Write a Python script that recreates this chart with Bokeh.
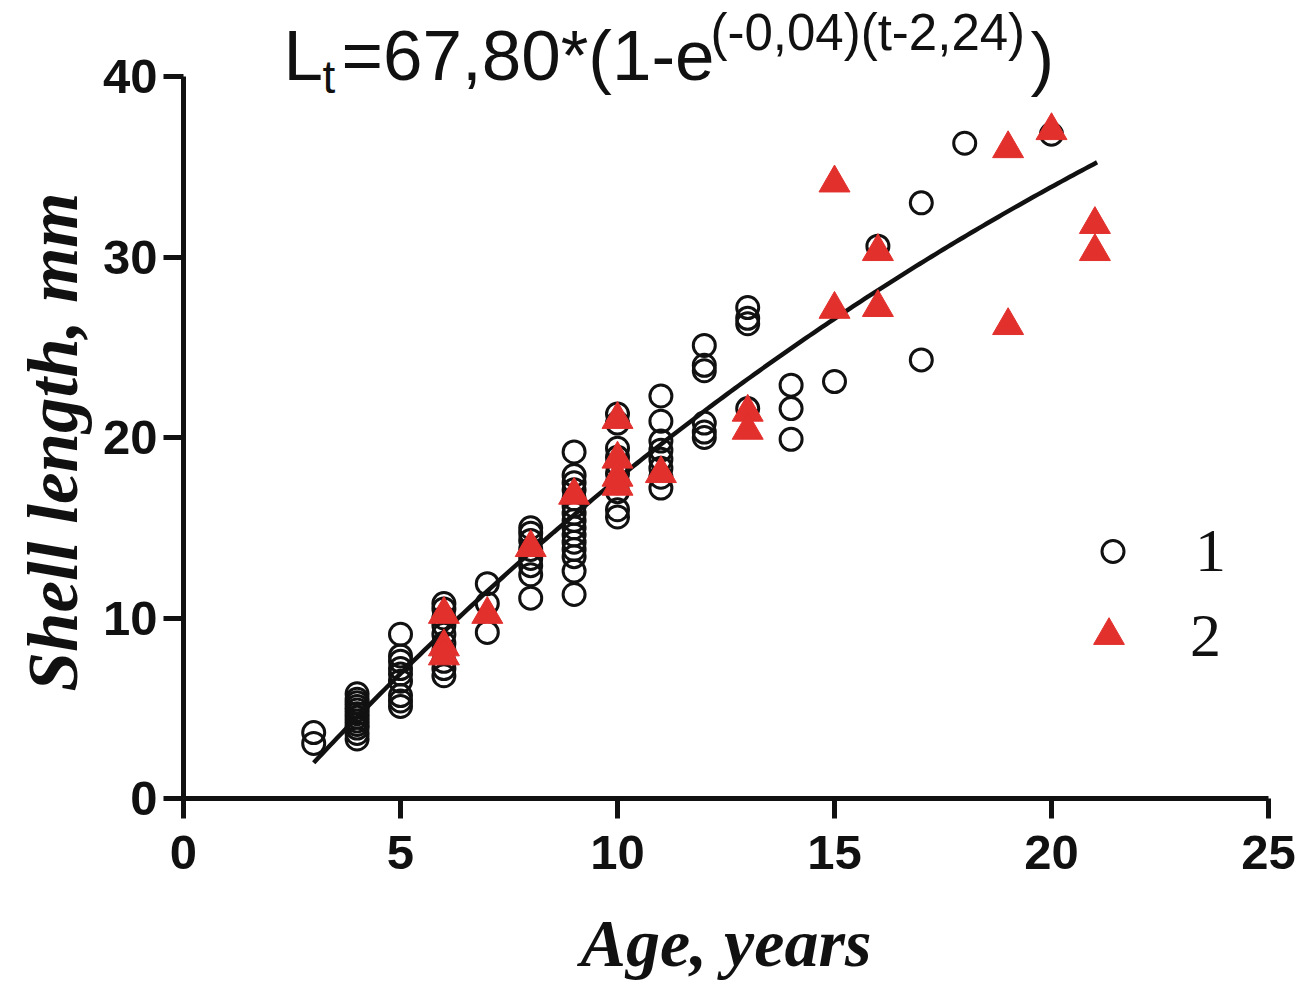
import numpy as np
from bokeh.plotting import figure
from bokeh.models import Range1d, FixedTicker, Legend, LegendItem, Label, Title
from bokeh.embed import file_html
from bokeh.resources import INLINE

# ---- data ----
age_1 = ([3] * 2 + [4] * 12 + [5] * 9 + [6] * 10 + [7] * 3 + [8] * 8 + [9] * 15 +
         [10] * 10 + [11] * 8 + [12] * 6 + [13] * 4 + [14] * 3 + [15] + [16] + [17] * 2 + [18] + [20])
length_1 = [3.65, 3.05,
            3.3, 3.6, 3.9, 4.1, 4.3, 4.5, 4.7, 4.9, 5.1, 5.3, 5.5, 5.8,
            9.1, 7.9, 7.6, 7.2, 6.9, 6.5, 5.7, 5.4, 5.1,
            10.8, 10.5, 10.0, 9.6, 9.1, 8.6, 8.2, 7.6, 7.2, 6.8,
            11.9, 10.8, 9.2,
            15.0, 14.7, 14.3, 13.8, 13.3, 12.9, 12.4, 11.1,
            19.2, 17.9, 17.5, 17.1, 16.6, 16.2, 15.8, 15.4, 15.0, 14.6, 14.2, 13.8, 13.4, 12.6, 11.3,
            21.3, 20.8, 19.4, 18.9, 18.5, 18.0, 17.5, 17.0, 16.0, 15.6,
            22.3, 20.9, 19.8, 19.3, 18.8, 18.3, 17.8, 17.2,
            25.1, 24.0, 23.7, 20.8, 20.3, 20.0,
            27.2, 26.6, 26.3, 21.6,
            22.9, 21.6, 19.9,
            23.1,
            30.6,
            33.0, 24.3,
            36.3,
            36.8]

age_2 = [6, 6, 6, 7, 8, 9, 10, 10, 10, 10, 11, 13, 13, 15, 15, 16, 16, 19, 19, 20, 21, 21]
length_2 = [10.2, 8.4, 7.9, 10.2, 13.9, 16.8, 21.0, 18.8, 17.8, 17.3, 18.0, 21.4, 20.4,
            34.1, 27.1, 30.3, 27.2, 36.0, 26.2, 37.0, 31.8, 30.3]

# von Bertalanffy growth curve (title rounds k to -0,04; drawn curve matches k ~ -0.039)
L_inf, k, t0 = 67.80, -0.039, 2.24
t_start, t_end = 3.0, 21.05

x_ticks = [0, 5, 10, 15, 20, 25]
y_ticks = [0, 10, 20, 30, 40]
series_labels = ["1", "2"]

# ---- figure ----
FL, FT, FW, FH = 183, 0, 1085, 798
FB = FT + FH
X0, X1, Y0, Y1 = 0, 25, 0, 40 * FH / 722

p = figure(width=1309, height=988, output_backend="svg", toolbar_location=None,
           x_range=Range1d(X0, X1), y_range=Range1d(Y0, Y1),
           frame_width=FW, frame_height=FH,
           min_border_left=FL, min_border_right=1309 - FL - FW,
           min_border_top=FT, min_border_bottom=988 - FB)
p.outline_line_color = None
p.xgrid.visible = False
p.ygrid.visible = False
p.background_fill_color = "white"
p.border_fill_color = "white"

for ax in (p.xaxis[0], p.yaxis[0]):
    ax.axis_line_width = 5
    ax.axis_line_color = "#111111"
    ax.major_tick_line_width = 5
    ax.major_tick_line_color = "#111111"
    ax.major_tick_out = 20
    ax.major_tick_in = 0
    ax.minor_tick_line_color = None
    ax.major_label_text_font = "Liberation Sans"
    ax.major_label_text_font_style = "bold"
    ax.major_label_text_font_size = "49px"
    ax.major_label_text_color = "#111111"
    ax.axis_label_text_font = "Liberation Serif"
    ax.axis_label_text_font_style = "bold italic"
    ax.axis_label_text_color = "#111111"

p.xaxis[0].axis_label_text_font_size = "68px"
p.xaxis[0].ticker = FixedTicker(ticks=x_ticks)
p.yaxis[0].ticker = FixedTicker(ticks=y_ticks)
p.xaxis[0].bounds = (0, 25)
p.yaxis[0].bounds = (0, 40)
p.xaxis[0].major_label_standoff = 17
p.yaxis[0].major_label_standoff = 6
p.xaxis[0].axis_label = "Age, years"
p.xaxis[0].axis_label_standoff = 33

# y-axis title, centred on the drawn axis (0..40) rather than on the frame
p.add_layout(Title(text="Shell length, mm", align="left", offset=107, standoff=16,
                   vertical_align="bottom", text_font="Liberation Serif",
                   text_font_style="bold italic", text_font_size="71px",
                   text_color="#111111"), "left")

# ---- glyphs ----
r1 = p.scatter(age_1, length_1, marker="circle", size=22, fill_color=None,
               line_color="#111111", line_width=3)
tt = np.linspace(t_start, t_end, 200)
p.line(tt, L_inf * (1 - np.exp(k * (tt - t0))), line_color="#111111", line_width=4.5)
r2 = p.scatter(age_2, length_2, marker="triangle", size=31, fill_color="#E2302D",
               line_color="#E2302D", line_width=1)

# ---- legends ----
leg1 = Legend(items=[LegendItem(label=series_labels[0], renderers=[r1])],
              location=(902, 212), glyph_width=55, glyph_height=70, label_height=70,
              label_standoff=55, padding=0, margin=0, border_line_color=None,
              background_fill_alpha=0, label_text_font="Liberation Serif",
              label_text_font_size="62px", label_text_color="#111111")
leg2 = Legend(items=[LegendItem(label=series_labels[1], renderers=[r2])],
              location=(887, 124), glyph_width=77, glyph_height=78, label_height=78,
              label_standoff=43, padding=0, margin=0, border_line_color=None,
              background_fill_alpha=0, label_text_font="Liberation Serif",
              label_text_font_size="62px", label_text_color="#111111")
p.add_layout(leg1)
p.add_layout(leg2)

# ---- title formula (pieces: text, left px, baseline px, font px), screen units ----
pieces = [("L", 283, 82, 71),
          ("t", 322, 94, 46),
          ("=67,80*(1-e", 341, 82, 71),
          ("(-0,04)(t-2,24)", 710, 51, 51),
          (")", 1030, 84, 71)]
for txt, px, py, fs in pieces:
    p.add_layout(Label(x=px - FL, y=FB - (py - 0.38 * fs),
                       x_units="screen", y_units="screen", text=txt,
                       text_font="Liberation Sans", text_font_size=f"{fs}px",
                       text_color="#111111", text_align="left",
                       text_baseline="alphabetic"))

open("out.html", "w").write(file_html(p, INLINE))
